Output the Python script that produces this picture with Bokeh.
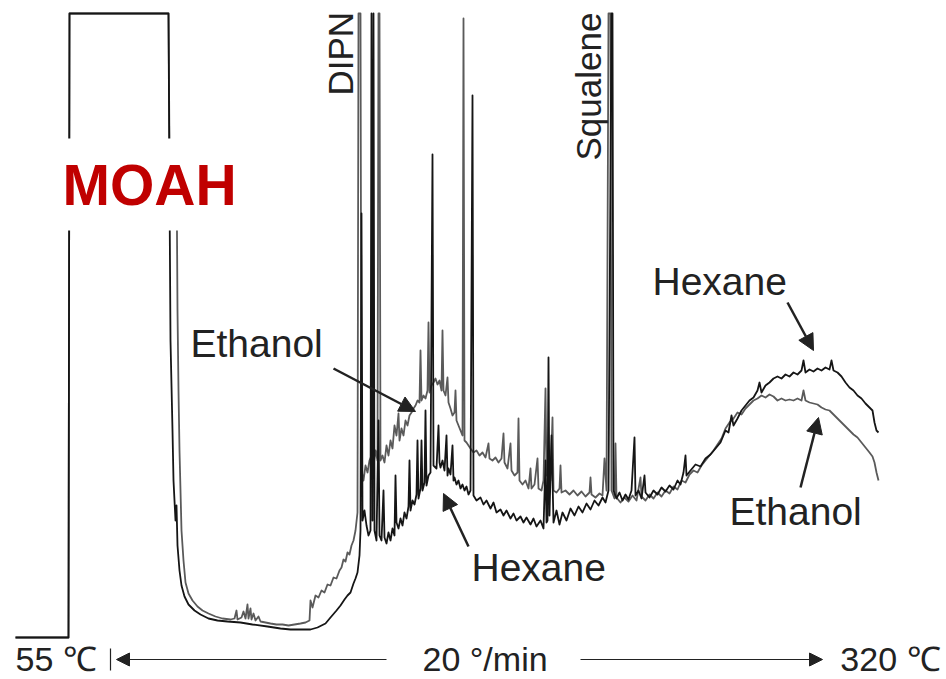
from bokeh.plotting import figure
from bokeh.models import ColumnDataSource, Range1d, Label, Arrow, NormalHead
from bokeh.embed import file_html
from bokeh.resources import INLINE

# (retention position, detector signal), arbitrary units
hexane_points = [
    (15, 3), (40, 3), (68, 3), (69, 627), (168, 627), (169, 450), (170, 300), (172, 210), (173, 160),
    (175, 120), (176, 135), (177, 95), (179, 70), (181, 55), (184, 44), (188, 36), (194, 30), (200, 26),
    (208, 22), (217, 20), (227, 19), (240, 18), (252, 16), (267, 14), (280, 12), (290, 11), (300, 11),
    (310, 11), (317, 13), (325, 17), (330, 23), (336, 30), (340, 35), (344, 41), (347, 45), (350, 48),
    (353, 57), (355, 62), (357, 68), (359, 85), (360, 110), (361, 427), (362, 120), (364, 130), (366, 115),
    (368, 105), (370, 110), (371, 627), (372, 120), (373, 627), (374, 110), (376, 100), (378, 220),
    (379, 105), (381, 100), (383, 150), (384, 103), (386, 97), (388, 108), (390, 100), (392, 112),
    (394, 105), (395, 165), (396, 118), (398, 112), (400, 122), (402, 115), (404, 128), (406, 122),
    (408, 134), (409, 180), (410, 130), (412, 140), (414, 136), (416, 146), (417, 200), (418, 142),
    (420, 152), (421, 200), (422, 150), (424, 158), (425, 230), (426, 155), (428, 165), (430, 168),
    (432, 486), (433, 175), (436, 172), (438, 215), (439, 178), (440, 173), (442, 180), (444, 170),
    (446, 205), (447, 165), (448, 172), (450, 166), (452, 195), (453, 160), (454, 163), (456, 156),
    (458, 160), (460, 152), (462, 156), (464, 150), (466, 154), (468, 146), (470, 150), (472, 545),
    (473, 145), (476, 140), (480, 143), (483, 136), (486, 140), (490, 132), (493, 138), (496, 128),
    (500, 131), (503, 125), (506, 130), (510, 122), (513, 127), (516, 120), (520, 124), (523, 118),
    (526, 123), (530, 116), (533, 122), (536, 114), (540, 120), (543, 112), (545, 180), (546, 118),
    (547, 120), (548, 283), (549, 125), (551, 205), (553, 118), (556, 130), (559, 116), (562, 128),
    (566, 120), (570, 132), (574, 125), (578, 134), (582, 128), (586, 137), (590, 131), (594, 140),
    (598, 135), (602, 143), (605, 138), (608, 150), (611, 627), (612, 627), (613, 150), (616, 142),
    (619, 148), (622, 140), (625, 146), (628, 141), (631, 150), (634, 203), (635, 145), (638, 150),
    (641, 142), (644, 165), (645, 148), (649, 143), (653, 150), (657, 146), (661, 153), (665, 149),
    (669, 155), (673, 151), (677, 160), (680, 156), (683, 168), (685, 185), (686, 165), (690, 170),
    (695, 176), (700, 174), (705, 182), (710, 186), (715, 192), (720, 198), (725, 210), (728, 208),
    (731, 225), (733, 215), (737, 222), (741, 230), (745, 235), (749, 240), (753, 243), (757, 250),
    (759, 258), (761, 248), (765, 255), (769, 258), (773, 262), (777, 264), (781, 262), (785, 266),
    (789, 264), (793, 268), (797, 266), (801, 270), (803, 280), (805, 268), (809, 271), (813, 269),
    (817, 272), (821, 270), (825, 273), (829, 271), (831, 280), (833, 270), (837, 268), (841, 264),
    (845, 258), (849, 253), (853, 250), (857, 245), (861, 242), (865, 237), (869, 233), (872, 230),
    (874, 218), (876, 210), (878, 208),
]

ethanol_points = [
    (15, 3), (68, 3), (69, 627), (168, 627), (169, 490), (176, 485), (177, 330), (178, 250), (179, 190),
    (180, 150), (181, 110), (183, 80), (185, 58), (188, 47), (192, 40), (197, 34), (202, 30), (208, 27),
    (215, 24), (222, 22), (230, 21), (234, 22), (236, 30), (237, 21), (241, 23), (243, 29), (245, 22),
    (247, 36), (248, 22), (250, 32), (251, 21), (253, 27), (255, 20), (258, 24), (260, 19), (265, 18),
    (270, 17), (276, 16), (282, 16), (288, 15), (294, 16), (300, 17), (305, 18), (309, 20), (310, 40),
    (312, 33), (315, 45), (318, 43), (321, 50), (324, 48), (327, 56), (330, 55), (333, 63), (336, 62),
    (339, 70), (341, 73), (343, 81), (345, 79), (347, 88), (349, 86), (351, 95), (353, 100), (355, 110),
    (357, 128), (358, 627), (360, 627), (361, 170), (363, 160), (365, 175), (367, 168), (369, 180),
    (371, 185), (373, 175), (375, 190), (377, 180), (378, 627), (379, 627), (380, 180), (382, 185),
    (384, 178), (386, 195), (388, 185), (390, 200), (392, 192), (394, 215), (396, 205), (398, 227),
    (399, 200), (401, 212), (403, 205), (405, 220), (407, 215), (409, 225), (411, 228), (413, 232),
    (415, 235), (417, 240), (419, 238), (420, 290), (421, 240), (423, 245), (425, 242), (427, 250),
    (428, 318), (429, 248), (431, 255), (433, 258), (435, 262), (437, 256), (439, 260), (441, 250),
    (442, 310), (443, 250), (445, 245), (447, 263), (448, 238), (450, 232), (452, 225), (454, 228),
    (455, 250), (456, 220), (458, 215), (460, 210), (462, 205), (463, 622), (464, 200), (466, 198),
    (468, 195), (470, 192), (473, 188), (476, 190), (479, 185), (482, 188), (485, 183), (488, 197),
    (489, 182), (492, 180), (495, 183), (498, 178), (501, 182), (503, 207), (504, 178), (507, 172),
    (510, 197), (511, 170), (514, 165), (517, 168), (518, 222), (519, 160), (522, 156), (525, 160),
    (528, 152), (530, 172), (531, 152), (534, 156), (537, 182), (538, 152), (541, 150), (543, 160),
    (545, 252), (546, 165), (549, 180), (550, 160), (552, 223), (553, 150), (556, 148), (559, 152),
    (560, 175), (561, 148), (565, 150), (569, 146), (573, 150), (577, 145), (581, 149), (585, 144),
    (589, 148), (590, 163), (591, 146), (595, 143), (599, 147), (602, 145), (604, 182), (606, 150),
    (608, 627), (610, 627), (611, 150), (614, 142), (615, 197), (616, 143), (620, 138), (624, 143),
    (628, 139), (632, 145), (636, 140), (640, 163), (641, 144), (645, 140), (649, 146), (653, 142),
    (657, 148), (661, 144), (665, 150), (669, 147), (673, 154), (677, 151), (681, 160), (685, 158),
    (689, 166), (693, 170), (697, 168), (701, 175), (705, 180), (709, 185), (713, 190), (717, 196),
    (721, 202), (725, 212), (729, 218), (733, 222), (737, 228), (741, 226), (745, 232), (749, 236),
    (753, 240), (757, 242), (761, 245), (765, 243), (769, 246), (773, 244), (777, 240), (781, 242),
    (785, 240), (789, 241), (793, 240), (797, 242), (801, 240), (803, 250), (805, 240), (809, 238),
    (813, 237), (817, 236), (821, 233), (825, 231), (829, 230), (833, 226), (837, 222), (841, 218),
    (845, 214), (849, 210), (853, 206), (857, 203), (861, 198), (865, 193), (869, 188), (872, 184),
    (874, 178), (876, 168), (878, 160),
]

temp_start = "55 ℃"
temp_rate = "20 °/min"
temp_end = "320 ℃"

FONT = "Liberation Sans"
INK = "#222222"

p = figure(width=946, height=679, output_backend="svg", toolbar_location=None,
           x_range=Range1d(0, 946), y_range=Range1d(-39, 640), min_border=0)
p.axis.visible = False
p.grid.visible = False
p.outline_line_color = None
p.background_fill_color = "white"
p.border_fill_color = "white"

src_e = ColumnDataSource(dict(x=[a for a, b in ethanol_points], y=[b for a, b in ethanol_points]))
src_h = ColumnDataSource(dict(x=[a for a, b in hexane_points], y=[b for a, b in hexane_points]))
p.line("x", "y", source=src_e, line_color="#5a5a5a", line_width=1.8, line_join="round")
p.line("x", "y", source=src_h, line_color="#151515", line_width=1.8, line_join="round")

# MOAH label with white box interrupting the solvent peak
p.add_layout(Label(x=48, y=456, text="MOAH", text_font=FONT, text_font_style="bold",
                   text_font_size="57px", text_color="#c00000", text_baseline="middle",
                   background_fill_color="white", padding=14))

# Rotated peak labels
p.add_layout(Label(x=340, y=545, text="DIPN", angle=90, angle_units="deg", text_font=FONT,
                   text_font_size="35px", text_color=INK, text_baseline="middle"))
p.add_layout(Label(x=588, y=480, text="Squalene", angle=90, angle_units="deg", text_font=FONT,
                   text_font_size="35px", text_color=INK, text_baseline="middle"))

# Solvent labels
for tx, ty, t in [(190, 297, "Ethanol"), (652, 359, "Hexane"), (729, 129, "Ethanol"), (471, 73, "Hexane")]:
    p.add_layout(Label(x=tx, y=ty, text=t, text_font=FONT, text_font_size="39px",
                       text_color=INK, text_baseline="middle"))

# Pointer arrows
for xs, ys, xe, ye in [(333, 272, 415, 229), (468, 94, 443, 147), (787, 338, 813, 290), (800, 153, 818, 223)]:
    p.add_layout(Arrow(x_start=xs, y_start=ys, x_end=xe, y_end=ye, line_width=2.5, line_color=INK,
                       end=NormalHead(size=16, fill_color=INK, line_color=INK)))

# Temperature programme footer
for tx, t, align in [(15, temp_start, "left"), (422, temp_rate, "left"), (940, temp_end, "right")]:
    p.add_layout(Label(x=tx, y=-18, text=t, text_font=FONT, text_font_size="34px",
                       text_color=INK, text_baseline="middle", text_align=align))
p.add_layout(Arrow(x_start=110, y_start=-30, x_end=110, y_end=-8, line_width=1.2,
                   line_color=INK, start=None, end=None))
p.add_layout(Arrow(x_start=386, y_start=-19, x_end=116, y_end=-19, line_width=1.2, line_color=INK,
                   end=NormalHead(size=13, fill_color=INK, line_color=INK)))
p.add_layout(Arrow(x_start=580, y_start=-19, x_end=822, y_end=-19, line_width=1.2, line_color=INK,
                   end=NormalHead(size=13, fill_color=INK, line_color=INK)))

open("out.html", "w").write(file_html(p, INLINE))
